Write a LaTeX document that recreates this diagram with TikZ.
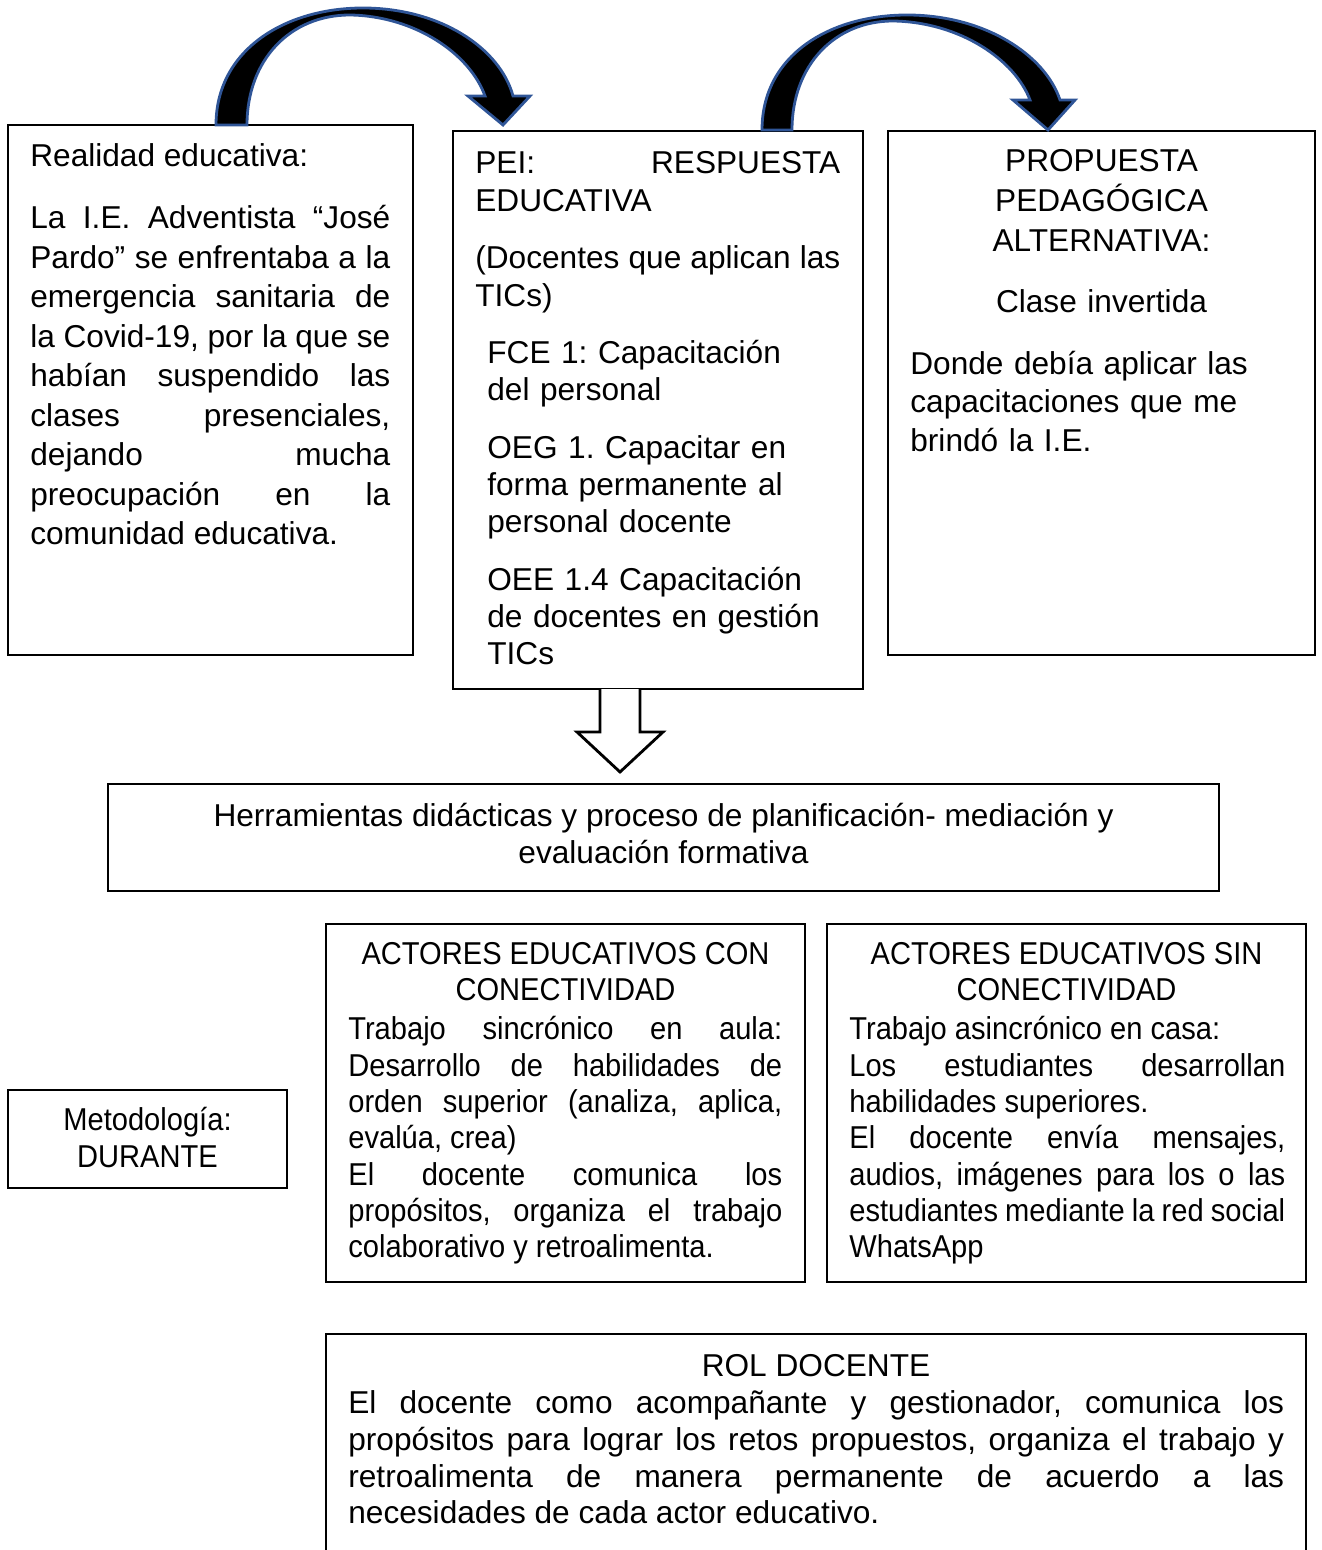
\documentclass[tikz,border=0pt]{standalone}
\usepackage{fontspec}
\setmainfont{Liberation Sans}
\newfontfamily\estrecha[FakeStretch=0.92]{Liberation Sans}
\usetikzlibrary{fit}
\definecolor{azul}{RGB}{47,85,151}
\hyphenpenalty=10000
\exhyphenpenalty=10000
\tolerance=10000
\frenchspacing

\begin{document}
\begin{tikzpicture}[x=0.02cm, y=-0.02cm,
  marco/.style={draw, line width=1.6pt, inner sep=0pt},
  texto/.style={inner sep=0pt, font=\fontsize{18}{21}\selectfont},
  angosto/.style={inner sep=0pt, font=\estrecha\fontsize{18}{20.7}\selectfont},
  flecha/.style={fill=black, draw=azul, line width=1.6pt},
  hueco/.style={fill=white, draw=black, line width=1.6pt}]
\useasboundingbox (0,0) rectangle (1321,1550);
\clip (0,0) rectangle (1321,1550);

% fila superior
\node[marco, fit={(8,125) (413,655)}] (real) {};
\node[marco, fit={(453,131) (863,689)}] (pei) {};
\node[marco, fit={(888,131) (1315,655)}] (prop) {};

\node[texto, anchor=north west, text width=7.2cm, align=justify, font=\fontsize{18}{22.5}\selectfont] (realT) at (30,143)
  {Realidad educativa:\par\vspace{13pt}La I.E. Adventista “José\linebreak Pardo” se enfrentaba a la\linebreak emergencia sanitaria de\linebreak la Covid-19, por la que se\linebreak habían suspendido las\linebreak clases presenciales,\linebreak dejando mucha\linebreak preocupación en la\linebreak comunidad educativa.};
\node[texto, anchor=north west, text width=7.3cm, align=justify, font=\fontsize{18}{21.5}\selectfont] (peiT) at (475,151)
  {PEI: RESPUESTA\linebreak EDUCATIVA\par\vspace{11pt}(Docentes que aplican las\linebreak TICs)};
\node[texto, anchor=north west, text width=7cm, align=left] (peiL) at (487,340)
  {FCE 1: Capacitación\\del personal\\[12pt]OEG 1. Capacitar en\\forma permanente al\\personal docente\\[12pt]OEE 1.4 Capacitación\\de docentes en gestión\\TICs};
\node[texto, anchor=north, text width=7.66cm, align=center, font=\fontsize{18}{22.7}\selectfont] (propT) at (1101.5,149)
  {PROPUESTA\\PEDAGÓGICA\\ALTERNATIVA:\\[12pt]Clase invertida};
\node[texto, anchor=north west, text width=7.66cm, align=left, font=\fontsize{18}{21.8}\selectfont] (propL) at (910,351)
  {Donde debía aplicar las\\capacitaciones que me\\brindó la I.E.};

% flechas curvas
\filldraw[flecha] (216,125) .. controls (216,50) and (285,8) .. (363,8)
  .. controls (440,8) and (500,48) .. (513,96) -- (530,96) -- (503,125) -- (468,96) -- (485,96)
  .. controls (470,54) and (415,16) .. (350,15) .. controls (290,15) and (247,60) .. (247,125) -- cycle;
\filldraw[flecha] (762,130) .. controls (762,55) and (830,15) .. (907,15)
  .. controls (985,15) and (1045,55) .. (1060,100) -- (1075,100) -- (1048,130) -- (1013,100) -- (1030,100)
  .. controls (1015,60) and (960,22) .. (893,21) .. controls (835,21) and (792,65) .. (792,130) -- cycle;

% flecha hacia abajo
\filldraw[hueco] (600,689) -- (600,732) -- (577,732) -- (620,772) -- (663,732) -- (640,732) -- (640,689);

\node[marco, fit={(108,784) (1219,891)}] (herr) {};
\node[texto, anchor=north, align=center] (herrT) at (663.5,803)
  {Herramientas didácticas y proceso de planificación- mediación y\\evaluación formativa};

% actores
\node[marco, fit={(326,924) (805,1282)}] (con) {};
\node[marco, fit={(827,924) (1306,1282)}] (sin) {};
\node[marco, fit={(8,1090) (287,1188)}] (meto) {};

\node[angosto, anchor=north, align=center] (conT) at (565.5,942)
  {ACTORES EDUCATIVOS CON\\CONECTIVIDAD};
\node[angosto, anchor=north west, text width=8.68cm, align=justify] (conB) at (348,1016)
  {Trabajo sincrónico en aula:\linebreak Desarrollo de habilidades de\linebreak orden superior (analiza, aplica,\linebreak evalúa, crea)\par El docente comunica los\linebreak propósitos, organiza el trabajo\linebreak colaborativo y retroalimenta.};
\node[angosto, anchor=north, align=center] (sinT) at (1066.5,942)
  {ACTORES EDUCATIVOS SIN\\CONECTIVIDAD};
\node[angosto, anchor=north west, text width=8.72cm, align=justify] (sinB) at (849,1016)
  {Trabajo asincrónico en casa:\par Los estudiantes desarrollan\linebreak habilidades superiores.\par El docente envía mensajes,\linebreak audios, imágenes para los o las\linebreak estudiantes mediante la red social\linebreak WhatsApp};
\node[angosto, anchor=north, align=center] (metoT) at (147.5,1107)
  {Metodología:\\DURANTE};

% rol docente
\node[marco, fit={(326,1334) (1306,1600)}] (rol) {};
\node[texto, anchor=north, align=center] (rolT) at (816,1354) {ROL DOCENTE};
\node[texto, anchor=north west, text width=18.72cm, align=justify] (rolB) at (348,1390)
  {El docente como acompañante y gestionador, comunica los\linebreak propósitos para lograr los retos propuestos, organiza el trabajo y\linebreak retroalimenta de manera permanente de acuerdo a las\linebreak necesidades de cada actor educativo.};
\end{tikzpicture}
\end{document}
